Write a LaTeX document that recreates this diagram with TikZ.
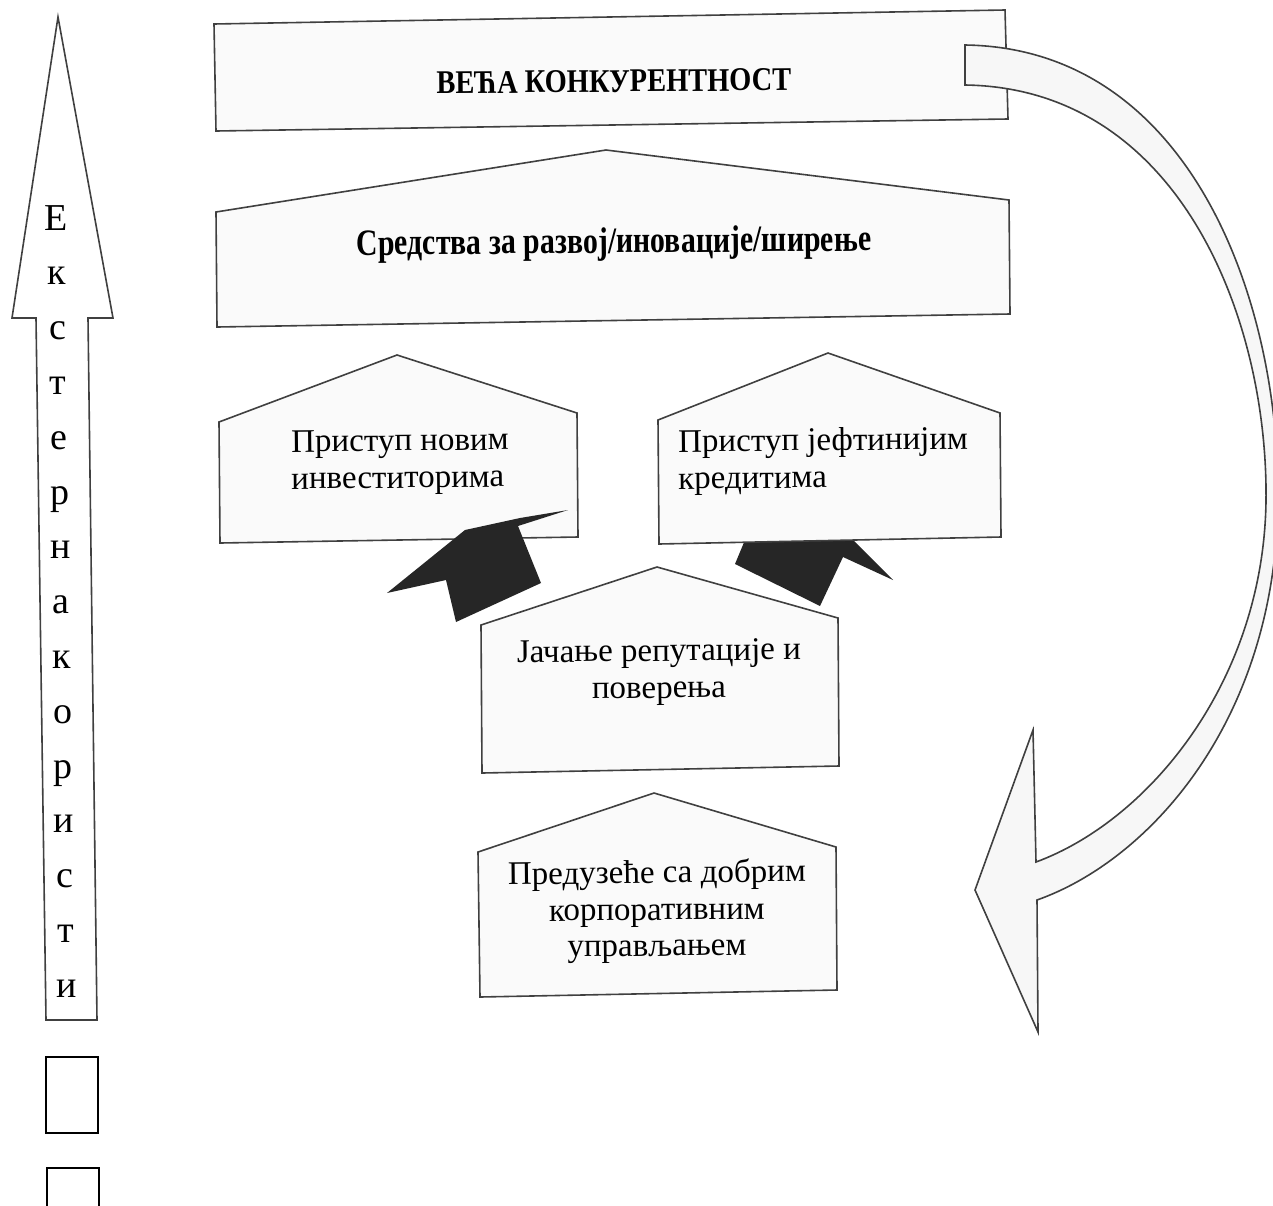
\documentclass[tikz,border=0pt]{standalone}
\usepackage{fontspec}
\setmainfont{Liberation Serif}
\begin{document}
\begin{tikzpicture}[x=0.5pt,y=-0.5pt,
  boxline/.style={draw=black!75,line width=0.8pt,fill=black!2,line join=miter},
  darkarrow/.style={fill=black!85,draw=none},
  boldtxt/.style={font=\bfseries\fontsize{14.5}{18}\selectfont,inner sep=0pt,anchor=base,rotate=0.5},
  boxtxt/.style={font=\fontsize{16.5}{19}\selectfont,inner sep=0pt,rotate=0.6},
  lettertxt/.style={font=\fontsize{19}{22}\selectfont,inner sep=0pt,anchor=base}]
\path[use as bounding box] (0,0) rectangle (1273,1205);
\clip (0,0) rectangle (1273,1205);
\fill[white] (0,0) rectangle (1273,1205);

% left upward block arrow
\draw[boxline,fill=white] (58,17) -- (113,318) -- (88,318) -- (97,1020) -- (46,1020) -- (36,318) -- (12,318) -- cycle;
\foreach \L [count=\i from 0] in {Е,к,с,т,е,р,н,а,к,о,р,и,с,т,и}{
  \node[lettertxt] (let\i) at ({56+0.0133*54.8*\i},{230+54.8*\i}) {\L};
}
% small boxes bottom left
\draw[black,line width=1.1pt] (46,1057) rectangle (98,1133);
\draw[black,line width=1.1pt] (47,1168) rectangle (99,1225);

% top box
\draw[boxline] (214,24) -- (1005,10) -- (1008,119) -- (216,131) -- cycle;
\node[boldtxt] (t1) at (614,92) {\scalebox{0.98}[1.14]{ВЕЋА КОНКУРЕНТНОСТ}};

% box 2
\draw[boxline] (216,212) -- (606,150) -- (1009,200) -- (1010,314) -- (217,327) -- cycle;
\node[boldtxt] (t2) at (614,253) {\scalebox{1.03}[1.28]{Средства за развој/иновације/ширење}};

% box 3
\draw[boxline] (219,422) -- (397,355) -- (577,413) -- (578,537) -- (220,543) -- cycle;
\node[boxtxt,anchor=base west] (t3a) at (291,452) {Приступ новим};
\node[boxtxt,anchor=base west] (t3b) at (291,489) {инвеститорима};

% right dark arrow (behind box 4)
\fill[darkarrow] (745,540) -- (735,564) -- (820,606) -- (843,557) -- (893,580) -- (853,540) -- cycle;

% box 4
\draw[boxline] (658,420) -- (828,353) -- (1000,413) -- (1001,537) -- (659,544) -- cycle;
\node[boxtxt,anchor=base west] (t4a) at (678,452) {Приступ јефтинијим};
\node[boxtxt,anchor=base west] (t4b) at (678,489) {кредитима};

% left dark arrow (in front of box 3)
\fill[darkarrow] (387,593) -- (465,530) -- (520,518) -- (568,510) -- (518,526) -- (541,583) -- (456,622) -- (446,580) -- cycle;

% box 5
\draw[boxline] (481,625) -- (657,567) -- (838,618) -- (839,766) -- (482,773) -- cycle;
\node[boxtxt,anchor=base] (t5a) at (659,661) {Јачање репутације и};
\node[boxtxt,anchor=base] (t5b) at (659,698) {поверења};

% box 6
\draw[boxline] (478,852) -- (654,793) -- (836,847) -- (837,990) -- (480,997) -- cycle;
\node[boxtxt,anchor=base] (t6a) at (657,883) {Предузеће са добрим};
\node[boxtxt,anchor=base] (t6b) at (657,920) {корпоративним};
\node[boxtxt,anchor=base] (t6c) at (657,956) {управљањем};

% curved block arrow
\draw[boxline,fill=black!3] (965,45)
  .. controls (1190,48) and (1280,300) .. (1278,500)
  .. controls (1276,720) and (1150,860) .. (1037,900)
  -- (1038,1032) -- (975,890) -- (1033,730) -- (1036,862)
  .. controls (1150,820) and (1264,680) .. (1266,500)
  .. controls (1268,320) and (1180,88) .. (965,85) -- cycle;
\end{tikzpicture}
\end{document}
